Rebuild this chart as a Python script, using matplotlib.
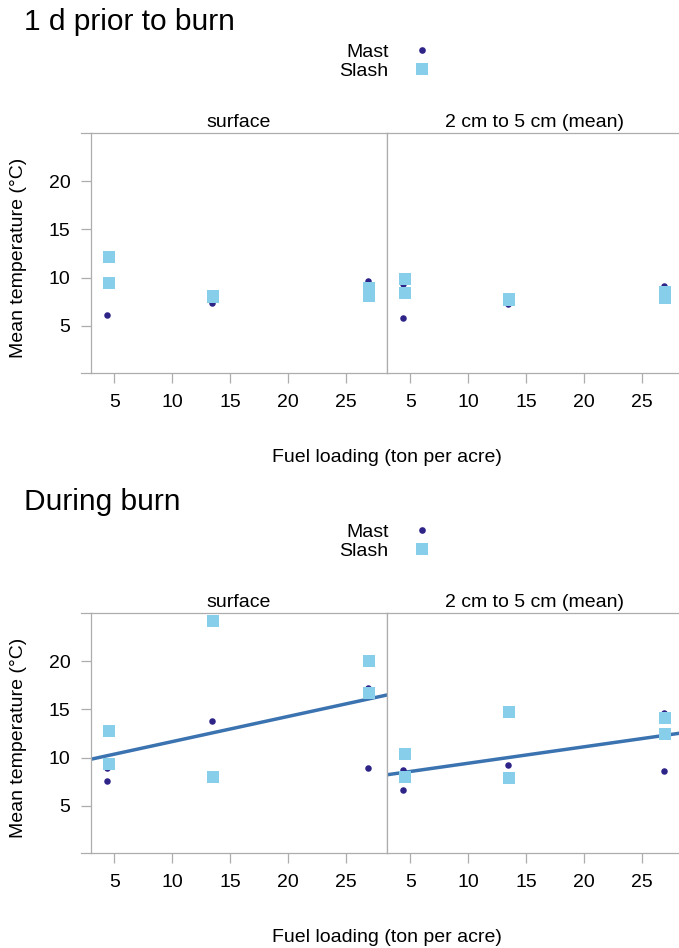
import matplotlib
matplotlib.use("Agg")
import matplotlib.pyplot as plt
from matplotlib.lines import Line2D

plt.rcParams['font.family'] = ['Liberation Sans', 'DejaVu Sans']

# datos
mast_x = [4.4, 4.4, 13.4, 13.4, 26.9, 26.9]
slash_x = [4.5, 4.5, 13.5, 13.5, 27.0, 27.0]

prior_surface_mast = [6.1, 9.3, 7.4, 8.0, 9.7, 8.4]
prior_surface_slash = [12.1, 9.4, 8.1, 8.0, 8.9, 8.1]
prior_deep_mast = [9.3, 5.8, 7.25, 7.7, 9.15, 8.0]
prior_deep_slash = [9.9, 8.4, 7.8, 7.7, 8.5, 7.85]

burn_surface_mast = [7.6, 8.9, 13.8, 8.0, 17.2, 8.9]
burn_surface_slash = [12.8, 9.3, 24.1, 7.95, 20.0, 16.7]
burn_deep_mast = [8.7, 6.6, 9.2, 7.9, 14.6, 8.6]
burn_deep_slash = [10.4, 8.0, 14.7, 7.9, 14.1, 12.4]

# recta ajustada (intercepto, pendiente) solo en "During burn"
burn_surface_fit = (9.06, 0.26)
burn_deep_fit = (7.72, 0.17)

page_titles = ["1 d prior to burn", "During burn"]
strip_labels = ["surface", "2 cm to 5 cm (mean)"]
series_labels = ["Mast", "Slash"]
x_ticks = [5, 10, 15, 20, 25]
y_ticks = [5, 10, 15, 20]
x_lim = (2.96, 28.54)
y_lim = (0.1, 24.94)

MAST_COLOR = '#2e2488'
SLASH_COLOR = '#87ceeb'
LINE_COLOR = '#3b73b0'
FRAME_COLOR = '#adadad'
FS = 14

W, H = 679, 948
fig = plt.figure(figsize=(W / 100, H / 100), dpi=100)


def px_box(x0, y0, x1, y1):
    return [x0 / W, 1 - y1 / H, (x1 - x0) / W, (y1 - y0) / H]


def style_panel(ax, first):
    for side in ['left', 'right', 'top', 'bottom']:
        ax.spines[side].set_color(FRAME_COLOR)
        ax.spines[side].set_linewidth(0.9)
    ax.set_xlim(*x_lim)
    ax.set_ylim(*y_lim)
    ax.set_xticks(x_ticks)
    ax.tick_params(axis='x', direction='out', length=7.2, width=0.9,
                   color=FRAME_COLOR, labelsize=FS, pad=8.0)
    if first:
        ax.set_yticks(y_ticks)
        ax.tick_params(axis='y', direction='out', length=7.2, width=0.9,
                       color=FRAME_COLOR, labelsize=FS, pad=7.5)
        # lineas horizontales que salen a la izquierda del panel
        for yy in [0, 1]:
            ax.plot([-10 / 296, 0], [yy, yy], transform=ax.transAxes,
                    color=FRAME_COLOR, lw=0.9, clip_on=False)
    else:
        ax.set_yticks([])


pages = [
    ([prior_surface_mast, prior_deep_mast],
     [prior_surface_slash, prior_deep_slash], [None, None]),
    ([burn_surface_mast, burn_deep_mast],
     [burn_surface_slash, burn_deep_slash], [burn_surface_fit, burn_deep_fit]),
]

for p, (mast_vals, slash_vals, fits) in enumerate(pages):
    off = 480 * p
    top, bot = 133.3 + off, 373.3 + off
    panels = [px_box(90.7, top, 386.7, bot), px_box(386.7, top, 682.7, bot)]
    for i in range(2):
        ax = fig.add_axes(panels[i])
        style_panel(ax, i == 0)
        if fits[i] is not None:
            b, m = fits[i]
            ax.axline((0, b), slope=m, color=LINE_COLOR, lw=2.5, zorder=1)
        ax.scatter(mast_x, mast_vals[i], s=22, marker='o', color=MAST_COLOR,
                   linewidths=0, zorder=2)
        ax.scatter(slash_x, slash_vals[i], s=68, marker='s', color=SLASH_COLOR,
                   linewidths=0, zorder=3)
        ax.annotate(strip_labels[i], xy=(0.5, 1), xycoords='axes fraction',
                    xytext=(0, 8), textcoords='offset points',
                    ha='center', va='center', fontsize=FS)

    fig.text(24 / W, 1 - (22 + off) / H, page_titles[p], fontsize=21.5,
             ha='left', va='center')
    fig.text(19 / W, 1 - (258 + off) / H, 'Mean temperature (°C)',
             fontsize=FS, rotation=90, ha='center', va='center')
    fig.text(386.7 / W, 1 - (457 + off) / H, 'Fuel loading (ton per acre)',
             fontsize=FS, ha='center', va='center')

    handles = [
        Line2D([], [], ls='none', marker='o', markersize=4.8,
               markerfacecolor=MAST_COLOR, markeredgewidth=0),
        Line2D([], [], ls='none', marker='s', markersize=8.2,
               markerfacecolor=SLASH_COLOR, markeredgewidth=0),
    ]
    fig.legend(handles, series_labels, loc='center',
               bbox_to_anchor=(385.5 / W, 1 - (61.5 + off) / H),
               markerfirst=False, frameon=False, fontsize=FS,
               handlelength=1.0, handletextpad=1.2, labelspacing=0.1,
               borderpad=0, borderaxespad=0)

fig.savefig('out.png', dpi=100)
